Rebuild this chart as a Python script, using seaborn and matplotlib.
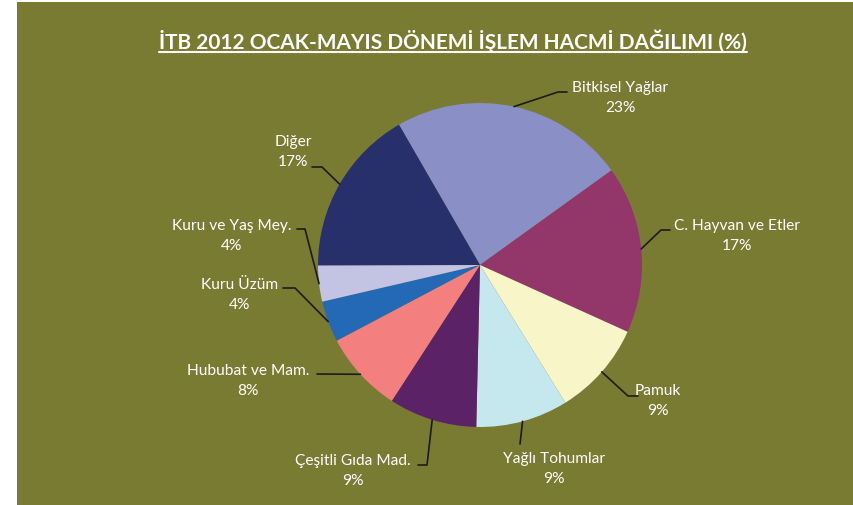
import matplotlib
matplotlib.use("Agg")
import matplotlib.pyplot as plt
import seaborn as sns
import numpy as np
from matplotlib.patches import Rectangle
from matplotlib.lines import Line2D

# ---------------- data ----------------
categories = ["Bitkisel Yağlar", "C. Hayvan ve Etler", "Pamuk", "Yağlı Tohumlar",
              "Çeşitli Gıda Mad.", "Hububat ve Mam.", "Kuru Üzüm",
              "Kuru ve Yaş Mey.", "Diğer"]
shares = [23.4, 16.7, 9.4, 9.2, 8.8, 8.1, 4.1, 3.6, 16.7]
pct_labels = ["23%", "17%", "9%", "9%", "9%", "8%", "4%", "4%", "17%"]
colors = ["#8A8FC6", "#93376B", "#F8F5C8", "#C5E8EF", "#5C2266",
          "#F47F7F", "#2369B5", "#C3C3E3", "#27306A"]
title = "İTB 2012 OCAK-MAYIS DÖNEMİ İŞLEM HACMİ DAĞILIMI (%)"

# ---------------- layout (image pixel coords, y from top) ----------------
W, H = 854, 506
# text block centre, elbow point, end of horizontal leader
label_layout = [
    ((620, 98), (558, 93), (567, 93)),
    ((737, 236), (661, 231), (670, 231)),
    ((658, 401), (628, 397), (638, 397)),
    ((554, 469), (520, 445), (520, 445)),
    ((353, 471), (427, 466), (418, 466)),
    ((248, 381), (317, 375), (317, 375)),
    ((240, 295), (295, 289), (283, 289)),
    ((232, 236), (305, 230), (297, 230)),
    ((293, 152), (322, 168), (312, 168)),
]

sns.set_theme(style="white")
plt.rcParams['font.family'] = ['Lato', 'DejaVu Sans']

fig = plt.figure(figsize=(W / 100, H / 100), dpi=100, facecolor="white")
bg = Rectangle((17 / W, 0), 1 - 17 / W, 1 - 3 / H, transform=fig.transFigure,
               facecolor="#797B33", edgecolor="none", zorder=-5)
fig.patches.append(bg)

cx, cy, r = 480, H - 266, 162
ax = fig.add_axes([(cx - r) / W, (cy - r) / H, 2 * r / W, 2 * r / H])
ax.set_zorder(1)
wedges, _ = ax.pie(shares, colors=sns.color_palette(colors), startangle=120,
                   counterclock=False, radius=1,
                   wedgeprops=dict(linewidth=0))
ax.set_xlim(-1, 1)
ax.set_ylim(-1, 1)
ax.set_aspect("equal")
ax.axis("off")
ax.patch.set_alpha(0)


def px(x, y):
    return (x / W, (H - y) / H)


for w, cat, pct, (tc, elbow, end) in zip(wedges, categories, pct_labels, label_layout):
    mid = np.deg2rad((w.theta1 + w.theta2) / 2)
    ex = cx + r * np.cos(mid)
    ey = (H - cy) - r * np.sin(mid)
    pts = [px(ex, ey), px(*elbow), px(*end)]
    ln = Line2D([p[0] for p in pts], [p[1] for p in pts],
                transform=fig.transFigure, color="#1c1c1c", lw=1.2, zorder=3)
    fig.add_artist(ln)
    fig.text(*px(*tc), f"{cat}\n{pct}", ha="center", va="center",
             multialignment="center", color="white", fontsize=11.2,
             linespacing=1.62, zorder=3)

t = fig.text(*px(453, 49), title, ha="center", va="baseline", color="white",
             fontsize=14, fontweight="bold", zorder=3)
fig.canvas.draw()
bb = t.get_window_extent()
target = 593
t.set_fontsize(14 * target / bb.width)
fig.canvas.draw()
bb = t.get_window_extent()
fig.add_artist(Line2D([bb.x0 / W, bb.x1 / W], [(H - 53) / H] * 2,
                      transform=fig.transFigure, color="white", lw=1.5, zorder=3))

fig.savefig("out.png", dpi=100, facecolor="white")
